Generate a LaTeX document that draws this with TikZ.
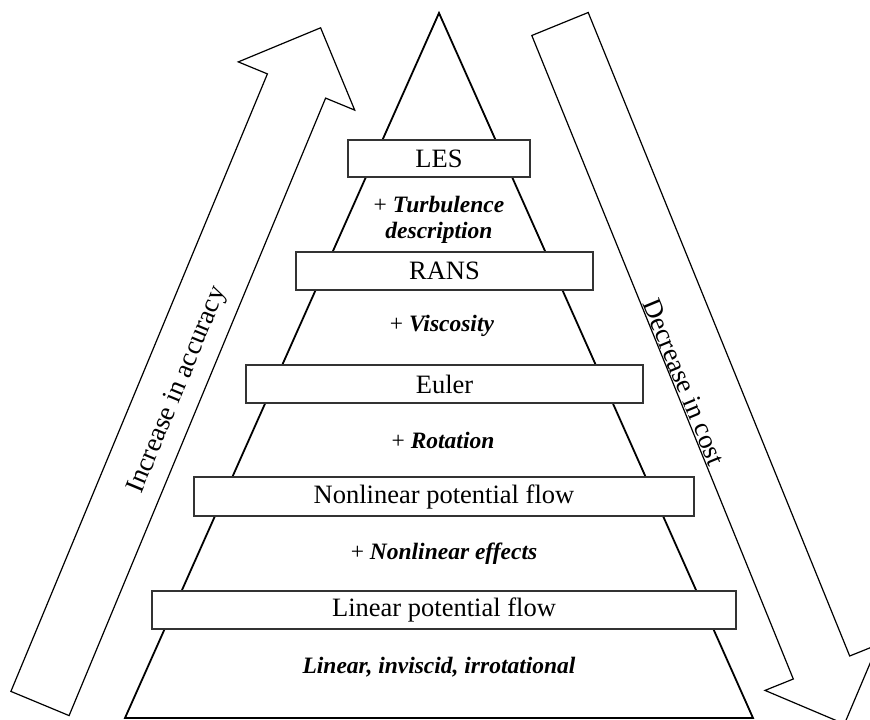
\documentclass[tikz,border=0pt]{standalone}
\usepackage{fontspec}
\setmainfont{Liberation Serif}
\begin{document}
\begin{tikzpicture}[x=1pt,y=-1pt,
  level/.style={draw=black!80, line width=1.2pt, fill=white, inner sep=0pt, font=\fontsize{26.5}{30}\selectfont},
  note/.style={font=\fontsize{23.5}{26.5}\selectfont, align=center, inner sep=0pt},
  bigarrow/.style={draw=black, line width=1.2pt, line join=miter},
  side/.style={font=\fontsize{27}{30}\selectfont, inner sep=0pt}]
\useasboundingbox (0,0) rectangle (870,720);
\clip (0,0) rectangle (870,720);
% big arrows
\draw[bigarrow] (10.9,691.4) -- (267.4,73.9) -- (238.3,61.9) -- (320.6,27.8)
  -- (354.7,110.1) -- (325.6,98.1) -- (69.1,715.6) -- cycle;
\draw[bigarrow] (531.8,35.5) -- (588.2,12.5) -- (849.7,656) -- (878,644.6)
  -- (844.4,724) -- (765,690.4) -- (793.3,679) -- cycle;
\node[side, rotate=67.5] (acc) at (178,390) {Increase in accuracy};
\node[side, rotate=-67.5] (cost) at (684,382) {Decrease in cost};
% pyramid
\coordinate (apex) at (439,13);
\coordinate (bl) at (125,718);
\coordinate (br) at (753,718);
\draw[line width=1.8pt, line join=miter] (apex) -- (bl) -- (br) -- cycle;
% levels
\node[level, minimum width=182pt, minimum height=37pt] (les) at (439,158.5) {LES};
\node[level, minimum width=297pt, minimum height=38pt] (rans) at (444.5,271) {RANS};
\node[level, minimum width=397pt, minimum height=38pt] (euler) at (444.5,384) {Euler};
\node[level, minimum width=500pt, minimum height=39pt] (nlpf) at (444,496.5) {Nonlinear potential flow};
\node[level, minimum width=584pt, minimum height=38pt] (lpf) at (444,610) {Linear potential flow};
% notes
\node[note] (n1) at (439,220) {+ \textbf{\textit{Turbulence}}\\\textbf{\textit{description}}};
\node[note] (n2) at (442,326) {+ \textbf{\textit{Viscosity}}};
\node[note] (n3) at (443,440) {+ \textbf{\textit{Rotation}}};
\node[note] (n4) at (444,554) {+ \textbf{\textit{Nonlinear effects}}};
\node[note] (n5) at (439,667) {\textbf{\textit{Linear, inviscid, irrotational}}};
\end{tikzpicture}
\end{document}
